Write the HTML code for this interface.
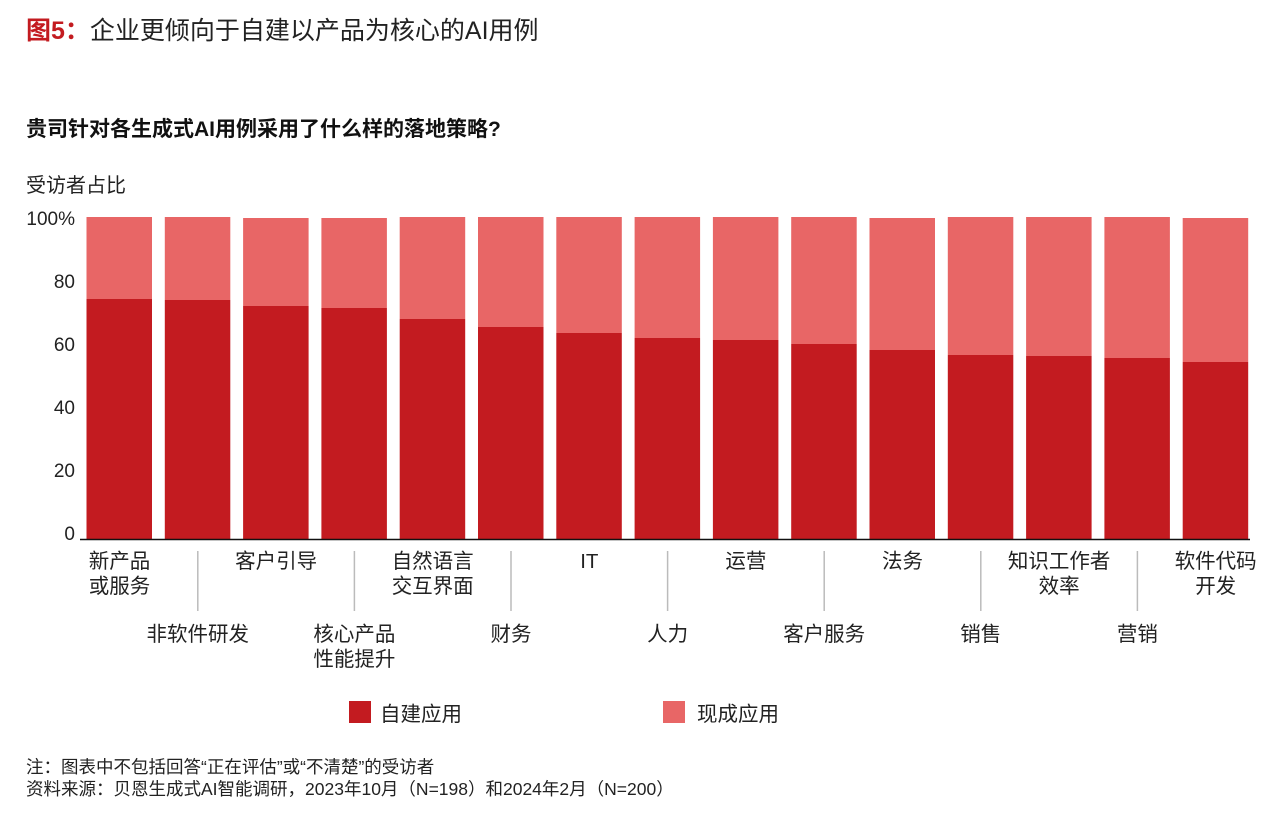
<!DOCTYPE html><html><head><meta charset="utf-8"><style>
body{margin:0;background:#fff;width:1280px;height:820px;overflow:hidden;font-family:"Liberation Sans","Noto Sans CJK SC",sans-serif}
</style></head><body>
<svg width="1280" height="820" xmlns="http://www.w3.org/2000/svg" font-family="Liberation Sans, Noto Sans CJK SC, sans-serif">
<text x="26" y="39" font-size="25" fill="#222"><tspan fill="#C31B20" font-weight="bold">图5：</tspan>企业更倾向于自建以产品为核心的AI用例</text>
<text x="26" y="136" font-size="21" font-weight="bold" fill="#111">贵司针对各生成式AI用例采用了什么样的落地策略?</text>
<text x="26" y="192" font-size="20" fill="#222">受访者占比</text>
<g font-size="19" fill="#222" text-anchor="end">
<text x="75" y="225">100%</text><text x="75" y="288">80</text><text x="75" y="351">60</text><text x="75" y="414">40</text><text x="75" y="477">20</text><text x="75" y="540">0</text>
</g>
<g id="bars"></g>
<line x1="80" y1="539.5" x2="1250" y2="539.5" stroke="#111" stroke-width="1.5"/>
<g stroke="#bbb" stroke-width="1.5" id="seps"></g>
<g font-size="20.5" fill="#222" text-anchor="middle" id="labels"></g>
<rect x="349" y="701" width="22" height="22" fill="#C31B20"/>
<text x="380" y="721" font-size="20.5" fill="#222">自建应用</text>
<rect x="663" y="701" width="22" height="22" fill="#E86666"/>
<text x="697" y="721" font-size="20.5" fill="#222">现成应用</text>
<text x="26" y="773" font-size="17.5" fill="#222">注：图表中不包括回答“正在评估”或“不清楚”的受访者</text>
<text x="26" y="795" font-size="17.5" fill="#222">资料来源：贝恩生成式AI智能调研，2023年10月（N=198）和2024年2月（N=200）</text>
</svg>
<script>
var ns="http://www.w3.org/2000/svg";
var tops=[299,300,306,308,319,327,333,338,340,344,350,355,356,358,362];
var lt=[217,217,218,218,217,217,217,217,217,217,218,217,217,217,218];
var labs=[["新产品","或服务"],["非软件研发"],["客户引导"],["核心产品","性能提升"],["自然语言","交互界面"],["财务"],["IT"],["人力"],["运营"],["客户服务"],["法务"],["销售"],["知识工作者","效率"],["营销"],["软件代码","开发"]];
var g=document.getElementById("bars"),L=document.getElementById("labels"),S=document.getElementById("seps");
function el(p,t,a){var e=document.createElementNS(ns,t);for(var k in a)e.setAttribute(k,a[k]);p.appendChild(e);return e;}
for(var i=0;i<15;i++){var x=86.5+78.3*i;
el(g,"rect",{x:x,y:lt[i],width:65.5,height:tops[i]-lt[i],fill:"#E86666"});
el(g,"rect",{x:x,y:tops[i],width:65.5,height:539-tops[i],fill:"#C31B20"});
var cx=x+33,y0=(i%2==0)?568:641;
for(var j=0;j<labs[i].length;j++){var t=el(L,"text",{x:cx,y:y0+25*j});t.textContent=labs[i][j];}
if(i%2==1){el(S,"line",{x1:cx,y1:551,x2:cx,y2:611});}
}
</script>
</body></html>
